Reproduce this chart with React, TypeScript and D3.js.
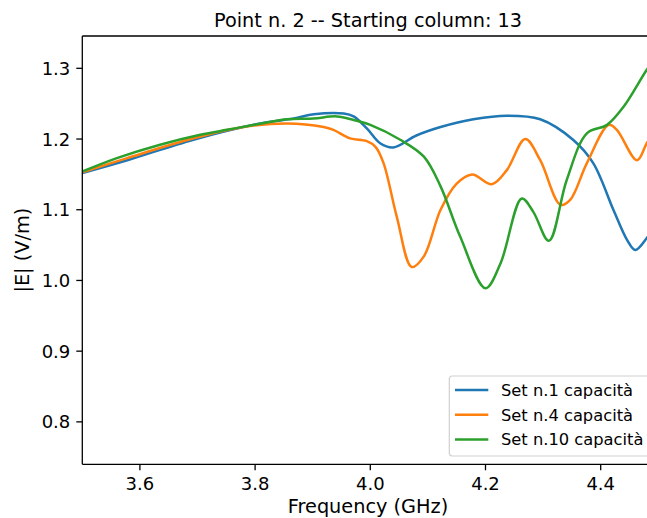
import React from "react";
import * as d3 from "d3";

// Frequency (GHz) and |E| (V/m) for each capacitor set
const set1Freq = [3.5, 3.578, 3.693, 3.809, 3.867, 3.902, 3.954, 3.971, 3.994, 4.017, 4.04, 4.08, 4.122, 4.179, 4.237, 4.295, 4.352, 4.387, 4.422, 4.446, 4.46, 4.48, 4.5];
const set1Field = [1.152, 1.17, 1.199, 1.222, 1.229, 1.235, 1.236, 1.232, 1.215, 1.194, 1.188, 1.205, 1.217, 1.228, 1.233, 1.228, 1.199, 1.166, 1.1, 1.057, 1.043, 1.06, 1.085];

const set4Freq = [3.5, 3.578, 3.693, 3.78, 3.855, 3.919, 3.936, 3.965, 3.994, 4.009, 4.023, 4.046, 4.072, 4.093, 4.122, 4.15, 4.177, 4.211, 4.237, 4.269, 4.295, 4.33, 4.347, 4.376, 4.414, 4.428, 4.463, 4.48, 4.5];
const set4Field = [1.153, 1.173, 1.201, 1.217, 1.222, 1.217, 1.213, 1.201, 1.197, 1.189, 1.166, 1.09, 1.019, 1.034, 1.1, 1.137, 1.15, 1.136, 1.156, 1.2, 1.17, 1.107, 1.114, 1.166, 1.22, 1.213, 1.17, 1.194, 1.22];

const set10Freq = [3.5, 3.56, 3.635, 3.705, 3.751, 3.792, 3.855, 3.901, 3.942, 3.971, 4.0, 4.052, 4.093, 4.122, 4.156, 4.2, 4.226, 4.263, 4.283, 4.31, 4.341, 4.376, 4.411, 4.44, 4.48, 4.5];
const set10Field = [1.154, 1.173, 1.192, 1.206, 1.213, 1.219, 1.228, 1.229, 1.232, 1.227, 1.22, 1.199, 1.175, 1.133, 1.062, 0.989, 1.024, 1.116, 1.097, 1.056, 1.142, 1.208, 1.22, 1.246, 1.298, 1.32];

const seriesNames = ["Set n.1 capacità", "Set n.4 capacità", "Set n.10 capacità"];
const seriesColors = ["#1f77b4", "#ff7f0e", "#2ca02c"];

const xTicks = [3.6, 3.8, 4.0, 4.2, 4.4];
const yTicks = [0.8, 0.9, 1.0, 1.1, 1.2, 1.3];

const W = 647;
const H = 518;
const left = 82.3;
const top = 36;
const bottom = 464.3;
const plotRight = 658.3;

const FONT = "DejaVu Sans, sans-serif";

export default function App() {
  const x = d3.scaleLinear().domain([3.5, 4.5]).range([left, plotRight]);
  const y = d3.scaleLinear().domain([0.74, 1.3457]).range([bottom, top]);

  const series = [
    { freq: set1Freq, field: set1Field },
    { freq: set4Freq, field: set4Field },
    { freq: set10Freq, field: set10Field },
  ];

  const line = d3
    .line<[number, number]>()
    .x((d) => x(d[0]))
    .y((d) => y(d[1]))
    .curve(d3.curveCatmullRom.alpha(0.5));

  const spine = "#000";

  return (
    <svg
      width={W}
      height={H}
      style={{ position: "absolute", left: 0, top: 0, display: "block", background: "#fff" }}
      fontFamily={FONT}
    >
      <defs>
        <clipPath id="plotArea">
          <rect x={left} y={top} width={plotRight - left} height={bottom - top} />
        </clipPath>
      </defs>
      <rect x={0} y={0} width={W} height={H} fill="#fff" />

      <g clipPath="url(#plotArea)">
        {series.map((s, i) => (
          <path
            key={seriesNames[i]}
            d={line(s.freq.map((f, j) => [f, s.field[j]] as [number, number])) || ""}
            fill="none"
            stroke={seriesColors[i]}
            strokeWidth={2.5}
            strokeLinejoin="round"
            strokeLinecap="round"
          />
        ))}
      </g>

      {/* spines */}
      <line x1={left} x2={left} y1={top} y2={bottom} stroke={spine} strokeWidth={1.3} />
      <line x1={left} x2={plotRight} y1={bottom} y2={bottom} stroke={spine} strokeWidth={1.3} />
      <line x1={left} x2={plotRight} y1={top} y2={top} stroke={spine} strokeWidth={1.3} />
      <line x1={plotRight} x2={plotRight} y1={top} y2={bottom} stroke={spine} strokeWidth={1.3} />

      {/* x axis */}
      {xTicks.map((t) => (
        <g key={"x" + t} transform={`translate(${x(t)},${bottom})`}>
          <line y1={0} y2={6} stroke={spine} strokeWidth={1.3} />
          <text y={26} textAnchor="middle" fontSize={18} fill="#000">
            {t.toFixed(1)}
          </text>
        </g>
      ))}
      <text x={368} y={513} textAnchor="middle" fontSize={19.3} fill="#000">
        Frequency (GHz)
      </text>

      {/* y axis */}
      {yTicks.map((t) => (
        <g key={"y" + t} transform={`translate(${left},${y(t)})`}>
          <line x1={0} x2={-6} stroke={spine} strokeWidth={1.3} />
          <text x={-12} dy="0.36em" textAnchor="end" fontSize={18} fill="#000">
            {t.toFixed(1)}
          </text>
        </g>
      ))}
      <text
        transform={`translate(29,${(top + bottom) / 2}) rotate(-90)`}
        textAnchor="middle"
        fontSize={19.3}
        fill="#000"
      >
        |E| (V/m)
      </text>

      {/* title */}
      <text x={368} y={27} textAnchor="middle" fontSize={19.3} fill="#000">
        Point n. 2 -- Starting column: 13
      </text>

      {/* legend */}
      <g>
        <rect
          x={449.3}
          y={376}
          width={220}
          height={80}
          rx={3}
          fill="#fff"
          fillOpacity={0.8}
          stroke="#d0d0d0"
          strokeWidth={1.2}
        />
        {seriesNames.map((name, i) => {
          const ly = 390 + i * 24.7;
          return (
            <g key={name}>
              <line x1={455} x2={488.3} y1={ly} y2={ly} stroke={seriesColors[i]} strokeWidth={2.5} />
              <text x={501} y={ly} dy="0.36em" fontSize={16.3} fill="#000">
                {name}
              </text>
            </g>
          );
        })}
      </g>
    </svg>
  );
}
